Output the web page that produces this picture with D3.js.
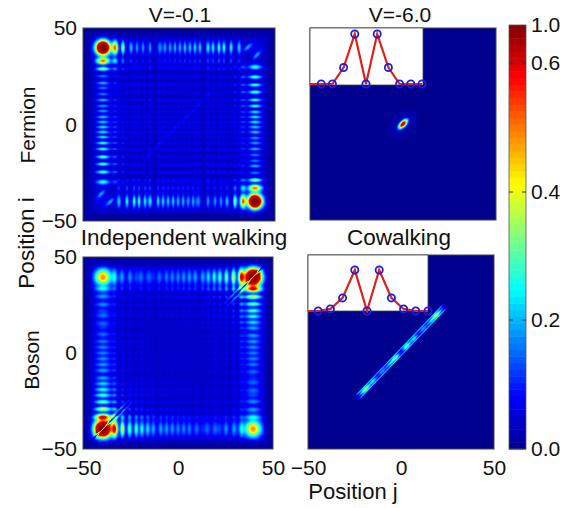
<!DOCTYPE html>
<html>
<head>
<meta charset="utf-8">
<script src="https://cdn.jsdelivr.net/npm/d3@7"></script>
<style>
  html, body { margin: 0; padding: 0; background: #fff; }
  text { font-family: "Liberation Sans", Arial, sans-serif; fill: #111; }
</style>
</head>
<body>
<div id="chart"></div>
<script>
// peak positions and heights
const fermionTopJ = [-39.6,-33.3,-29.2,-25,-21.9,-18.8,-15.1,-9.9,-7.3,-4.7,-2.1,0.5,3.1,5.7,8.3,10.9,15.1,17.7,20.8,23.4,27.1,31.3];
const fermionTopV = [1.05,0.42,0.27,0.15,0.12,0.12,0.12,0.12,0.13,0.13,0.14,0.14,0.15,0.15,0.16,0.16,0.18,0.18,0.2,0.2,0.19,0.16];
const fermionLeftI = [39.8,32.9,28.8,25.1,21.5,18.9,15.8,12.7,9.6,7,3.9,1.3,-1.3,-3.9,-6.5,-9.6,-12.7,-16.8,-20.5,-24.6,-29.8];
const fermionLeftV = [1.05,0.42,0.27,0.1,0.14,0.1,0.1,0.14,0.12,0.12,0.15,0.15,0.17,0.17,0.17,0.2,0.2,0.22,0.22,0.22,0.2];
const fermionStreakJ = [35.9,40.6];
const fermionStreakI = [40.1,36];
const fermionStreakV = [0.14,0.14];
const fermionDiagonal = [-15,15];

const bosonEdgeX = [-39.5,-33.3,-29.2,-25.5,-22,-19,-16,-13,-9,-6,-3,0,3,6,10,15,20,25,30,33.5,39.5];
const bosonEdgeV = [1,0.42,0.3,0.22,0.2,0.17,0.14,0.11,0.1,0.09,0.08,0.07,0.07,0.06,0.06,0.05,0.05,0.05,0.05,0.05,0.18];

const cowalkS = [-21,-18.8,-15,-10,-6,-3,3,7,12,16,18.8,21];
const cowalkV = [0.1,0.32,0.2,0.14,0.16,0.3,0.3,0.2,0.14,0.16,0.32,0.1];
const boundS = [0];
const boundV = [0.7];

const insetSites = [0,1,2,3,4,5,6,7,8,9,10];
const insetV6 = [0,0,0,0.33,1,0,1,0.33,0,0,0];
const insetCo = [0,0,0.05,0.32,1,0,1,0.32,0.05,0,0];

const axisTicks = [-50,0,50];
const colorbarTicks = [0,0.2,0.4,0.6,1];
const jetStops = [0,0.125,0.375,0.625,0.875,1];
const jetColors = ["#00008f","#0000ff","#00ffff","#ffff00","#ff0000","#800000"];

const W = 579, H = 508;

const panels = [
  { id: "fermionWeak", x: [83,275], y: [221,28], left: true, bottom: false },
  { id: "fermionStrong", x: [310,496], y: [220,28], left: false, bottom: false },
  { id: "bosonWeak", x: [83,273], y: [449,257], left: true, bottom: true },
  { id: "bosonStrong", x: [308,494], y: [449,255], left: false, bottom: true },
];

const svg = d3.select("#chart").append("svg")
  .attr("width", W).attr("height", H)
  .style("display", "block");

const soft = svg.append("defs").append("filter").attr("id", "soft")
  .attr("x", 0).attr("y", 0).attr("width", 1).attr("height", 1);
soft.append("feGaussianBlur").attr("stdDeviation", 0.7).attr("edgeMode", "duplicate");

// colour scale: the bar is plain jet over its height, but the values are stretched
const barY = d3.scaleLinear().domain(colorbarTicks).range([449,320,192,63,25]);
const jet = d3.scaleLinear().domain(jetStops).range(jetColors).clamp(true);
const barPos = d3.scaleLinear().domain([449,25]).range([0,1]);
const lut = d3.range(256).map(k => d3.rgb(jet(k / 255)));
const valueColor = v => lut[Math.round(255 * Math.max(0, Math.min(1, barPos(barY(Math.min(v, 1))))))];

const g = (d, s) => Math.exp(-d * d / (2 * s * s));

function edgeProfile(xs, vs, floor, corner, narrow) {
  const sig = xs.map((x, k) => Math.abs(x) > 38 ? corner : Math.max(narrow, 0.17 * Math.abs(x - xs[k - 1])));
  return x => {
    let s = Math.abs(x) < 43 ? floor : floor * g(Math.abs(x) - 43, 1.5);
    xs.forEach((p, k) => { s += vs[k] * g(x - p, sig[k]); });
    return s;
  };
}

function background(i, j) {
  const r = Math.max(Math.abs(i), Math.abs(j));
  return 0.012 + 0.018 * (r < 45 ? 1 : g(r - 45, 1.5));
}

const fermionT = edgeProfile(fermionTopJ, fermionTopV, 0.02, 2.4, 0.62);
const fermionL = edgeProfile(fermionLeftI, fermionLeftV, 0.02, 2.4, 0.62);
const bosonR = edgeProfile(bosonEdgeX, bosonEdgeV, 0.04, 2.9, 0.75);

const fields = {
  fermionWeak(i, j) {
    let v = fermionT(j) * fermionL(i) + fermionT(-j) * fermionL(-i) + background(i, j);
    // short slanted bars near the two empty corners
    fermionStreakJ.forEach((sj, k) => {
      const a = (j - sj) + (i - fermionStreakI[k]), b = (j - sj) - (i - fermionStreakI[k]);
      v += fermionStreakV[k] * g(a, 2.6) * g(b, 1.0);
      const a2 = (j + sj) + (i + fermionStreakI[k]), b2 = (j + sj) - (i + fermionStreakI[k]);
      v += fermionStreakV[k] * g(a2, 2.6) * g(b2, 1.0);
    });
    const s = (i + j) / 2;
    if (s > fermionDiagonal[0] - 10 && s < fermionDiagonal[1] + 10) {
      const fade = Math.abs(s) < fermionDiagonal[1] ? 1 : g(Math.abs(s) - fermionDiagonal[1], 2.5);
      v += 0.03 * fade * g(i - j, 0.7);
    }
    return v;
  },
  fermionStrong(i, j) {
    const s = (i + j) / 2, w = i - j;
    let v = 0;
    boundS.forEach((p, k) => {
      v += boundV[k] * g(s - p, 1.5) * g(w, 1.5);
      v += 0.015 * g(Math.hypot(s - p, w / 1.4) - 5, 1.2);
    });
    return v;
  },
  bosonWeak(i, j) {
    let v = bosonR(j) * bosonR(i) + bosonR(-j) * bosonR(-i) + background(i, j);
    const s = Math.abs(i + j) / 2, w = i - j;
    // the two bright corners split along the diagonal
    if (s > 22) {
      const mask = s > 30 ? 1 : g(s - 30, 3);
      v *= 1 - 0.65 * mask * g(w, 0.45);
      v += 0.1 * mask * (s < 42 ? 1 : g(s - 42, 1.2)) * g(Math.abs(w) - 1.5, 0.5);
    }
    return v;
  },
  bosonStrong(i, j) {
    const s = (i + j) / 2, w = i - j;
    let v = 0;
    const edge = Math.abs(s) < 22 ? 1 : g(Math.abs(s) - 22, 1);
    cowalkS.forEach((p, k) => { v += cowalkV[k] * g(s - p, 1.3) * g(w, 1.0); });
    v += 0.17 * edge * g(Math.abs(w) - 1.9, 0.42) + 0.05 * edge * g(w, 1);
    return v;
  },
};

panels.forEach(p => {
  const x = d3.scaleLinear().domain([-50,50]).range(p.x);
  const y = d3.scaleLinear().domain([-50,50]).range(p.y);
  const w = p.x[1] - p.x[0], h = p.y[0] - p.y[1];

  const canvas = document.createElement("canvas");
  canvas.width = w; canvas.height = h;
  const ctx = canvas.getContext("2d");
  const img = ctx.createImageData(w, h);
  const field = fields[p.id];
  for (let py = 0; py < h; py++) {
    for (let px = 0; px < w; px++) {
      const c = valueColor(field(y.invert(p.y[1] + py + 0.5), x.invert(p.x[0] + px + 0.5)));
      const o = (py * w + px) * 4;
      img.data[o] = c.r; img.data[o + 1] = c.g; img.data[o + 2] = c.b; img.data[o + 3] = 255;
    }
  }
  ctx.putImageData(img, 0, 0);

  svg.append("image")
    .attr("x", p.x[0]).attr("y", p.y[1])
    .attr("width", w).attr("height", h)
    .attr("filter", "url(#soft)")
    .attr("href", canvas.toDataURL());

  svg.append("rect")
    .attr("x", p.x[0]).attr("y", p.y[1])
    .attr("width", w).attr("height", h)
    .attr("fill", "none").attr("stroke", "#444").attr("stroke-width", 1);

  if (p.left) {
    const ax = svg.append("g").attr("transform", `translate(${p.x[0]},0)`)
      .call(d3.axisLeft(y).tickValues(axisTicks).tickSize(0).tickPadding(6));
    ax.select(".domain").remove();
    ax.selectAll("text").style("font-size", "21px").style("font-family", "Liberation Sans").attr("fill", "#111");
  }
  if (p.bottom) {
    const ax = svg.append("g").attr("transform", `translate(0,${p.y[0]})`)
      .call(d3.axisBottom(x).tickValues(axisTicks).tickSize(0).tickPadding(11));
    ax.select(".domain").remove();
    ax.selectAll("text").style("font-size", "21px").style("font-family", "Liberation Sans").attr("fill", "#111");
  }
});

// insets with the two-peak profile
function drawInset(box, siteRange, yRange, values, clipId) {
  svg.append("rect")
    .attr("x", box.x).attr("y", box.y).attr("width", box.w).attr("height", box.h)
    .attr("fill", "#fff").attr("stroke", "#444").attr("stroke-width", 0.8);

  const sx = d3.scaleLinear().domain([0,10]).range(siteRange);
  const sy = d3.scaleLinear().domain([0,1]).range(yRange);

  svg.append("clipPath").attr("id", clipId).append("rect")
    .attr("x", box.x).attr("y", box.y - 2).attr("width", box.w + 2).attr("height", box.h + 4);

  svg.append("path")
    .datum(values)
    .attr("clip-path", `url(#${clipId})`)
    .attr("fill", "none")
    .attr("stroke", "#e0201c")
    .attr("stroke-width", 2.2)
    .attr("d", d3.line().x((d, k) => sx(insetSites[k])).y(d => sy(d)));

  svg.selectAll(`circle.${clipId}`)
    .data(values.slice(1))
    .join("circle")
    .attr("class", clipId)
    .attr("cx", (d, k) => sx(insetSites[k + 1]))
    .attr("cy", d => sy(d))
    .attr("r", 3.6)
    .attr("fill", "none")
    .attr("stroke", "#1f1fd8")
    .attr("stroke-width", 1.8);
}

drawInset({ x: 310, y: 28, w: 113, h: 57 }, [310,422], [84,34], insetV6, "insetA");
drawInset({ x: 308, y: 255, w: 120, h: 56 }, [306,428], [311,270], insetCo, "insetB");

// colorbar
const barSteps = d3.range(64);
svg.selectAll("rect.bar")
  .data(barSteps)
  .join("rect")
  .attr("class", "bar")
  .attr("x", 509)
  .attr("width", 17)
  .attr("y", d => barPos.invert((d + 1) / 64))
  .attr("height", 424 / 64 + 0.5)
  .attr("fill", d => jet((d + 0.5) / 64));

svg.append("rect")
  .attr("x", 509).attr("y", 25).attr("width", 17).attr("height", 424)
  .attr("fill", "none").attr("stroke", "#555").attr("stroke-width", 0.8);

const barAxis = svg.append("g").attr("transform", "translate(526,0)")
  .call(d3.axisRight(barY).tickValues(colorbarTicks).tickFormat(d3.format(".1f")).tickSize(0).tickPadding(5));
barAxis.select(".domain").remove();
barAxis.selectAll("text").style("font-size", "21px").style("font-family", "Liberation Sans").attr("fill", "#111");

[0.2,0.4,0.6].forEach(t => {
  svg.append("line").attr("x1", 509).attr("x2", 513).attr("y1", barY(t)).attr("y2", barY(t)).attr("stroke", "#333");
  svg.append("line").attr("x1", 522).attr("x2", 526).attr("y1", barY(t)).attr("y2", barY(t)).attr("stroke", "#333");
});

// titles and labels
const label = (txt, x, y, rot, size) => svg.append("text")
  .attr("text-anchor", "middle")
  .attr("transform", `translate(${x},${y})` + (rot ? " rotate(-90)" : ""))
  .style("font-size", (size || 21) + "px")
  .text(txt);

label("V=-0.1", 180, 22);
label("V=-6.0", 400, 22);
label("Independent walking", 184, 245, false, 22.5);
label("Cowalking", 399, 245, false, 22.5);
label("Fermion", 35, 125, true);
label("Boson", 39, 360, true);
label("Position i", 34, 243, true, 22.5);
label("Position j", 353, 499, false, 22);
</script>
</body>
</html>
